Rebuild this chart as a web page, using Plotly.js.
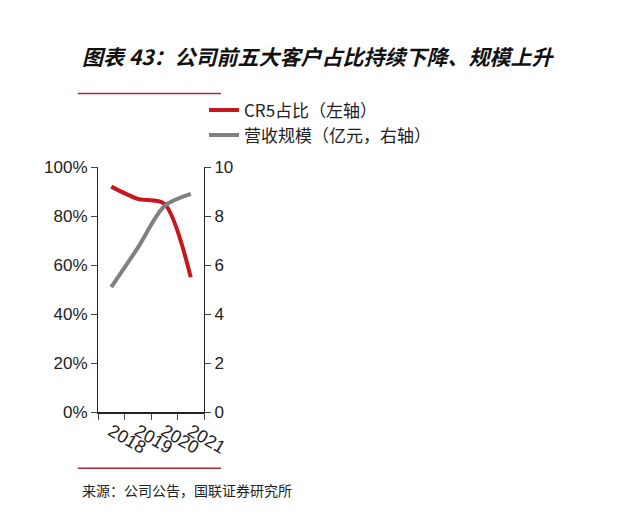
<!DOCTYPE html>
<html>
<head>
<meta charset="utf-8">
<script src="https://cdn.plot.ly/plotly-3.0.1.min.js"></script>
<style>body{margin:0;background:#fff}#chart{width:640px;height:517px}</style>
</head>
<body>
<div id="chart"></div>
<script>
const years = ["2018", "2019", "2020", "2021"];
const cr5Share = [0.92, 0.87, 0.85, 0.55];
const revenue = [5.1, 6.7, 8.4, 8.9];

const font = "Liberation Sans, Noto Sans CJK SC, sans-serif";
const cjk = "Noto Sans CJK SC, sans-serif";

const traces = [
  {
    x: years, y: cr5Share, name: "CR5占比（左轴）", type: "scatter", mode: "lines",
    line: { color: "#c8161d", width: 4, shape: "spline", smoothing: 0.8 },
  },
  {
    x: years, y: revenue, name: "营收规模（亿元，右轴）", type: "scatter", mode: "lines",
    yaxis: "y2",
    line: { color: "#808080", width: 4, shape: "spline", smoothing: 0.8 },
  },
];

const layout = {
  width: 640, height: 517,
  margin: { l: 98, r: 89, t: 167, b: 105 },
  paper_bgcolor: "#fff", plot_bgcolor: "#fff",
  font: { family: font, size: 17, color: "#222" },
  showlegend: true,
  legend: {
    orientation: "h", xref: "container", x: 0.5, xanchor: "center", y: 1.18, yanchor: "middle",
    bgcolor: "rgba(0,0,0,0)",
    font: { family: cjk, size: 17, color: "#222" }, traceorder: "normal",
  },
  xaxis: {
    type: "category", range: [-0.5, 3.5], tickson: "boundaries", ticks: "outside", ticklen: 6,
    showline: true, linecolor: "#222", linewidth: 1.5, showgrid: false,
    tickfont: { size: 18 },
  },
  yaxis: {
    range: [0, 1], dtick: 0.2, tickformat: ".0%", ticks: "outside", ticklen: 6,
    showline: true, linecolor: "#222", showgrid: false, zeroline: false,
  },
  yaxis2: {
    overlaying: "y", side: "right", range: [0, 10], dtick: 2, ticks: "outside", ticklen: 6,
    showline: true, linecolor: "#222", showgrid: false, zeroline: false,
  },
  shapes: [
    { type: "line", xref: "paper", yref: "paper", x0: -0.19, x1: 1.16, y0: 1.3, y1: 1.3,
      line: { color: "#a8283a", width: 1.5 } },
    { type: "line", xref: "paper", yref: "paper", x0: -0.19, x1: 1.16, y0: -0.23, y1: -0.23,
      line: { color: "#a8283a", width: 1.5 } },
  ],
  annotations: [
    { text: "<b><i>图表 43：公司前五大客户占比持续下降、规模上升</i></b>", xref: "paper", yref: "paper",
      x: -0.17, y: 1.455, xanchor: "left", yanchor: "middle", showarrow: false,
      font: { family: cjk, size: 21, color: "#111" } },
    { text: "来源：公司公告，国联证券研究所", xref: "paper", yref: "paper",
      x: -0.17, y: -0.32, xanchor: "left", yanchor: "middle", showarrow: false,
      font: { family: cjk, size: 14, color: "#222" } },
  ],
};

Plotly.newPlot("chart", traces, layout, { displayModeBar: false });
</script>
</body>
</html>
